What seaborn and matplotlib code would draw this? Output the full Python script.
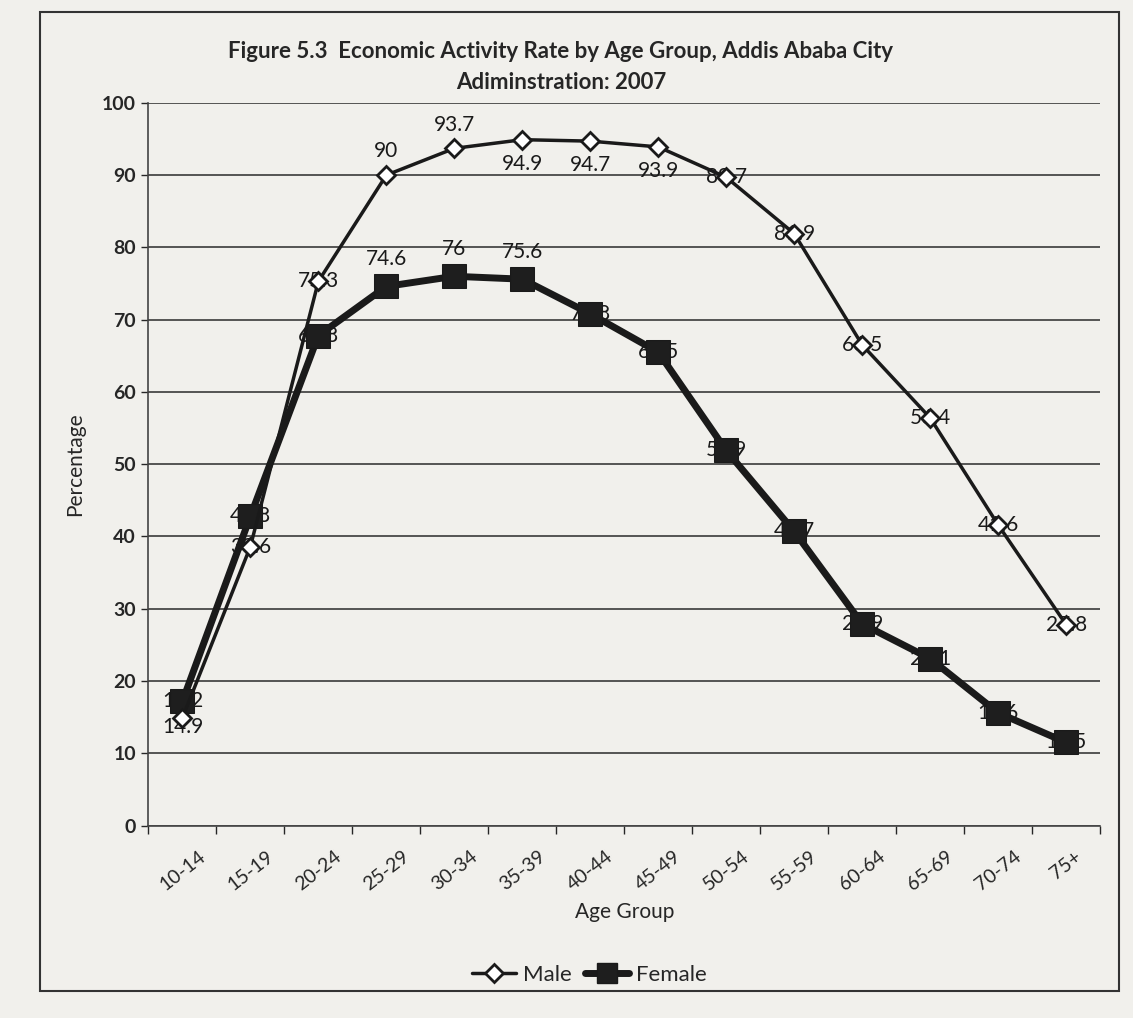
import pandas as pd
import matplotlib.pyplot as plt
import seaborn as sns
import numpy as np
from matplotlib.lines import Line2D
from matplotlib.patches import Rectangle

age_groups = ['10-14', '15-19', '20-24', '25-29', '30-34', '35-39', '40-44',
              '45-49', '50-54', '55-59', '60-64', '65-69', '70-74', '75+']
male = [14.9, 38.6, 75.3, 90, 93.7, 94.9, 94.7, 93.9, 89.7, 81.9, 66.5, 56.4, 41.6, 27.8]
female = [17.2, 42.8, 67.8, 74.6, 76, 75.6, 70.8, 65.5, 51.9, 40.7, 27.9, 23.1, 15.6, 11.5]

# label placement: c = centred on point, a = above, b = below, l = slightly low
male_pos = ['l', 'c', 'c', 'a', 'a', 'b', 'b', 'b', 'c', 'c', 'c', 'c', 'c', 'c']
female_pos = ['c', 'c', 'c', 'a', 'a', 'a', 'c', 'c', 'c', 'c', 'c', 'c', 'c', 'c']

sns.set_style('white')
plt.rcParams['font.family'] = ['Lato', 'DejaVu Sans']

bg = '#f1f0ec'
fig = plt.figure(figsize=(11.33, 10.18), dpi=100, facecolor=bg)
ax = fig.add_axes([0.131, 0.189, 0.84, 0.71], facecolor=bg)

df = pd.DataFrame({'age': age_groups, 'Male': male, 'Female': female})
x = np.arange(len(age_groups))

sns.lineplot(x=x, y=df['Female'], ax=ax, color='#1a1a1a', linewidth=5,
             marker='s', markersize=17, markerfacecolor='#1e1e1e',
             markeredgecolor='#1a1a1a', zorder=3)
sns.lineplot(x=x, y=df['Male'], ax=ax, color='#1a1a1a', linewidth=2.5,
             marker='D', markersize=9, markerfacecolor='white',
             markeredgecolor='#1a1a1a', markeredgewidth=2, zorder=4)

offsets = {'c': 0, 'a': 3.3, 'b': -3.3, 'l': -1.2}

for xi, v, p in zip(x, male, male_pos):
    ax.text(xi, v + offsets[p], '%g' % v, ha='center', va='center', fontsize=15,
            color='#1a1a1a', zorder=2)
for xi, v, p in zip(x, female, female_pos):
    dy = offsets[p] * 1.15
    ax.text(xi, v + dy, '%g' % v, ha='center', va='center', fontsize=15,
            color='#1a1a1a', zorder=2)

ax.set_ylim(0, 100)
ax.set_xlim(-0.3, 13.3)
ax.set_yticks(np.arange(0, 101, 10))
ax.set_xticks(x)
ax.set_xticklabels(age_groups, rotation=38, ha='center', fontsize=14)
ax.set_xticks(np.arange(-0.5, 14, 1), minor=True)
ax.tick_params(axis='y', labelsize=14, length=5, width=1, direction='out', left=True, pad=4)
ax.tick_params(axis='x', which='major', length=0, pad=16)
ax.tick_params(axis='x', which='minor', length=6, width=1, direction='out', bottom=True)
for t in ax.get_yticklabels():
    t.set_fontweight('bold')
ax.yaxis.grid(True, color='#3a3a3a', linewidth=1.2)
ax.xaxis.grid(False)
for s in ['top', 'right']:
    ax.spines[s].set_visible(False)
for s in ['left', 'bottom']:
    ax.spines[s].set_color('#444444')
    ax.spines[s].set_linewidth(1.2)

ax.set_xlabel('Age Group', fontsize=15, labelpad=6)
ax.set_ylabel('Percentage', fontsize=15, labelpad=12)

fig.text(0.495, 0.934, 'Figure 5.3  Economic Activity Rate by Age Group, Addis Ababa City\nAdiminstration: 2007',
         ha='center', va='center', fontsize=16, fontweight='bold', linespacing=1.6)

handles = [
    Line2D([], [], color='#1a1a1a', linewidth=2.5, marker='D', markersize=9,
           markerfacecolor='white', markeredgewidth=2),
    Line2D([], [], color='#1a1a1a', linewidth=5, marker='s', markersize=14,
           markerfacecolor='#1e1e1e'),
]
fig.legend(handles, ['Male', 'Female'], loc='center', bbox_to_anchor=(0.52, 0.042),
           ncol=2, frameon=False, fontsize=16, handlelength=2, columnspacing=0.6,
           handletextpad=0.3)

fig.patches.append(Rectangle((0.035, 0.027), 0.953, 0.961, transform=fig.transFigure,
                             fill=False, edgecolor='#333333', linewidth=1.5))

fig.savefig('out.png', dpi=100, facecolor=bg)
